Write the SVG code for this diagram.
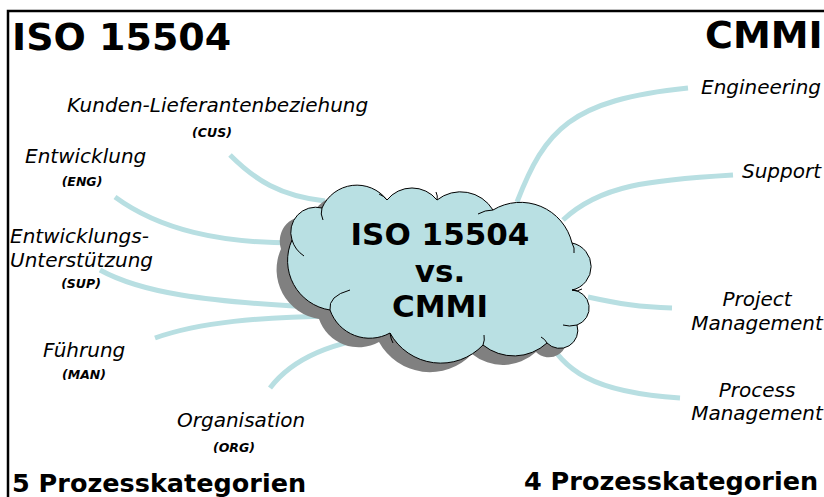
<svg xmlns="http://www.w3.org/2000/svg" width="824" height="497" viewBox="0 0 824 497">
<style>
.frame{fill:none;stroke:#000;stroke-width:2.5}
.con{fill:none;stroke:#B8DFE2;stroke-width:5;stroke-linecap:butt}
.big{font-family:"DejaVu Sans",Verdana,sans-serif;font-weight:bold;fill:#000}
.lab{font-family:"DejaVu Sans",Verdana,sans-serif;font-style:italic;font-size:20px;fill:#000}
.abbr{font-family:"DejaVu Sans",Verdana,sans-serif;font-style:italic;font-weight:bold;font-size:12.5px;fill:#000}
.cloud{fill:#B9E0E3;stroke:#000;stroke-width:1}
.shadow{fill:#808080}
.inner{fill:none;stroke:#000;stroke-width:1}
</style>
<defs>
<path id="cloudPath" d="M292,240 A25,25 0 0 1 322,208 A38,38 0 0 1 387,200 A32,32 0 0 1 437,200 A38,38 0 0 1 493,210 A53,53 0 0 1 572,243 A24,24 0 0 1 572,290 A18,18 0 0 1 577,325 A18,18 0 0 1 547,343 A49,49 0 0 1 483,345 A58,58 0 0 1 390,333 A42,42 0 0 1 330,310 A50,50 0 0 1 292,240 Z"/>
</defs>
<rect width="824" height="497" fill="#fff"/>
<path class="frame" d="M8,497 V11 H824"/>

<g id="connectors">
<path class="con" d="M230,155 C255,180 280,196 325,201"/>
<path class="con" d="M115,197 C160,230 220,243 295,243"/>
<path class="con" d="M100,270 C140,292 200,302 330,308"/>
<path class="con" d="M155,338 C200,322 260,317 335,316"/>
<path class="con" d="M270,388 C295,355 340,340 392,335"/>
<path class="con" d="M517,202 C545,130 570,100 688,88"/>
<path class="con" d="M563,220 C600,185 650,180 733,175"/>
<path class="con" d="M588,297 C620,304 640,307 672,308"/>
<path class="con" d="M545,336 C565,370 590,392 680,398"/>
</g>

<g id="cloud">
<use href="#cloudPath" class="shadow" transform="translate(-11,9)"/>
<use href="#cloudPath" class="cloud"/>
<path class="inner" d="M322,208 q-2,6 1,12"/>
<path class="inner" d="M387,200 q-3,-4 -8,-6"/>
<path class="inner" d="M437,200 q1,-4 -1,-8"/>
<path class="inner" d="M493,210 q-8,0 -15,4"/>
<path class="inner" d="M572,243 q3,5 2,10"/>
<path class="inner" d="M572,290 q6,2 10,-1"/>
<path class="inner" d="M577,325 q-8,2 -14,0"/>
<path class="inner" d="M547,343 q-2,-4 -6,-6"/>
<path class="inner" d="M483,345 q2,-5 1,-10"/>
<path class="inner" d="M390,333 q1,7 3,10"/>
<path class="inner" d="M330,310 q-2,-14 20,-20"/>
<path class="inner" d="M292,240 q3,10 12,16"/>
<text class="big" x="440" y="245" font-size="31" text-anchor="middle">ISO 15504</text>
<text class="big" x="440" y="282" font-size="31" text-anchor="middle">vs.</text>
<text class="big" x="440" y="317" font-size="31" text-anchor="middle">CMMI</text>
</g>

<g id="titles">
<text class="big" x="12" y="50" font-size="38">ISO 15504</text>
<text class="big" x="705" y="48" font-size="38">CMMI</text>
<text class="big" x="12" y="492" font-size="25.5">5 Prozesskategorien</text>
<text class="big" x="524" y="490" font-size="25.5">4 Prozesskategorien</text>
</g>

<g id="cus"><text class="lab" x="67" y="112">Kunden-Lieferantenbeziehung</text><text class="abbr" x="212" y="137" text-anchor="middle">(CUS)</text></g>
<g id="eng"><text class="lab" x="25" y="163">Entwicklung</text><text class="abbr" x="82" y="186" text-anchor="middle">(ENG)</text></g>
<g id="sup"><text class="lab" x="10" y="243">Entwicklungs-</text><text class="lab" x="10" y="267">Unterstützung</text><text class="abbr" x="81" y="288" text-anchor="middle">(SUP)</text></g>
<g id="man"><text class="lab" x="43" y="357">Führung</text><text class="abbr" x="84" y="379" text-anchor="middle">(MAN)</text></g>
<g id="org"><text class="lab" x="177" y="427">Organisation</text><text class="abbr" x="234" y="452" text-anchor="middle">(ORG)</text></g>

<g id="engineering"><text class="lab" x="821" y="94" text-anchor="end">Engineering</text></g>
<g id="support"><text class="lab" x="821" y="178" text-anchor="end">Support</text></g>
<g id="projmgmt"><text class="lab" x="757" y="306" text-anchor="middle">Project</text><text class="lab" x="757" y="330" text-anchor="middle">Management</text></g>
<g id="procmgmt"><text class="lab" x="757" y="397" text-anchor="middle">Process</text><text class="lab" x="757" y="420" text-anchor="middle">Management</text></g>
</svg>
